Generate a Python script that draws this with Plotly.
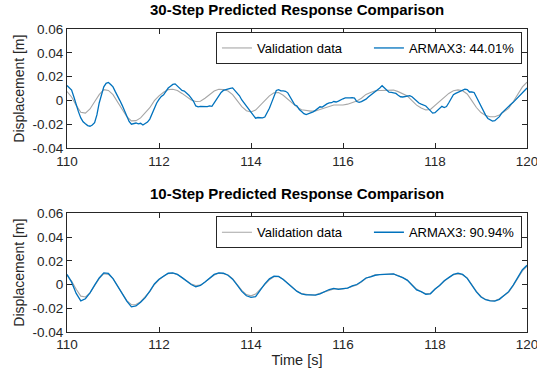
import numpy as np
import plotly.graph_objects as go
from plotly.subplots import make_subplots

# ---------------- data ----------------
t_coarse = np.round(np.linspace(110.0, 120.0, 101), 2)   # 0.1 s grid
t_fine = np.round(np.linspace(110.0, 120.0, 201), 2)     # 0.05 s grid

validation = [
    0.0076, 0.003, -0.004, -0.0098, -0.0105, -0.007, -0.001, 0.005, 0.0092, 0.0085,
    0.005, -0.001, -0.008, -0.0135, -0.017, -0.0168, -0.0145, -0.0105, -0.006, 0.0,
    0.004, 0.007, 0.0092, 0.0095, 0.0085, 0.006, 0.003, 0.0005, -0.0008, -0.0005,
    0.002, 0.005, 0.008, 0.0095, 0.0092, 0.008, 0.005, 0.0, -0.005, -0.0085,
    -0.0095, -0.008, -0.004, 0.0, 0.004, 0.0065, 0.0068, 0.0045, 0.001, -0.002,
    -0.0055, -0.0077, -0.0085, -0.0088, -0.0087, -0.0075, -0.006, -0.0045, -0.0037, -0.0037,
    -0.0037, -0.003, -0.0015, -0.0003, 0.002, 0.0052, 0.0068, 0.0082, 0.0085, 0.0088,
    0.009, 0.0088, 0.0075, 0.0058, 0.0038, 0.0, -0.0038, -0.0062, -0.0078, -0.0075,
    -0.004, -0.0005, 0.003, 0.006, 0.0082, 0.009, 0.0082, 0.0055, 0.0, -0.0058,
    -0.01, -0.0125, -0.0135, -0.0136, -0.012, -0.0095, -0.0065, -0.001, 0.0055, 0.0115,
    0.0155,
]

armax_10step = [
    0.0085, 0.002, -0.0075, -0.0138, -0.012, -0.007, -0.0005, 0.0055, 0.0098, 0.0093,
    0.005, -0.0015, -0.0085, -0.014, -0.0188, -0.018, -0.015, -0.011, -0.0055, 0.0005,
    0.0045, 0.0072, 0.0095, 0.0098, 0.0085, 0.0058, 0.0025, 0.0, -0.002, -0.0008,
    0.0022, 0.0055, 0.0085, 0.0098, 0.0095, 0.0078, 0.0045, -0.0005, -0.0058, -0.0095,
    -0.0108, -0.0102, -0.0045, 0.0005, 0.0048, 0.007, 0.0068, 0.0042, 0.0008, -0.0025,
    -0.0058, -0.0078, -0.0088, -0.0087, -0.0089, -0.0078, -0.006, -0.0042, -0.0032, -0.004,
    -0.0035, -0.003, -0.0012, 0.0, 0.0025, 0.0055, 0.0065, 0.0078, 0.0083, 0.0085,
    0.0088, 0.009, 0.0072, 0.0058, 0.0035, -0.0002, -0.0045, -0.006, -0.0082, -0.0078,
    -0.0038, -0.0008, 0.0032, 0.0058, 0.0085, 0.0095, 0.0085, 0.0052, -0.0005, -0.0062,
    -0.0105, -0.0128, -0.0138, -0.014, -0.0125, -0.0092, -0.006, -0.0005, 0.0062, 0.0125,
    0.0162,
]

armax_30step = [
    0.0126, 0.011, 0.0088, 0.003, -0.004, -0.0095, -0.0145, -0.0178, -0.0195, -0.021,
    -0.0215, -0.0205, -0.0185, -0.012, -0.002, 0.006, 0.0115, 0.0145, 0.0152, 0.0135,
    0.0115, 0.0075, 0.003, 0.0, -0.004, -0.009, -0.0135, -0.0175, -0.0198, -0.0195,
    -0.0188, -0.0195, -0.019, -0.0205, -0.0195, -0.018, -0.0155, -0.011, -0.0062, -0.002,
    0.001, 0.0035, 0.0048, 0.0075, 0.0105, 0.012, 0.0135, 0.014, 0.012, 0.0105,
    0.0085, 0.008, 0.0065, 0.0045, 0.002, -0.0006, -0.0045, -0.0052, -0.0048, -0.005,
    -0.0048, -0.005, -0.0045, -0.0048, -0.002, 0.001, 0.0045, 0.0068, 0.0085, 0.0092,
    0.0098, 0.0102, 0.0106, 0.0085, 0.006, 0.004, 0.0005, -0.002, -0.0045, -0.007,
    -0.0105, -0.013, -0.0148, -0.0142, -0.0145, -0.0145, -0.0138, -0.0105, -0.0065, -0.0015,
    0.004, 0.0085, 0.0092, 0.0082, 0.0082, 0.0078, 0.0065, 0.003, -0.001, -0.0035,
    -0.0045, -0.0075, -0.0092, -0.011, -0.0118, -0.0112, -0.01, -0.0095, -0.0082, -0.0065,
    -0.0052, -0.0055, -0.004, -0.0028, -0.002, -0.0018, -0.0008, -0.0012, -0.0005, 0.0008,
    0.0015, 0.0022, 0.0025, 0.0022, 0.0024, 0.002, -0.0008, -0.0015, -0.0008, 0.0,
    0.0012, 0.003, 0.0045, 0.006, 0.007, 0.0085, 0.0105, 0.0125, 0.0108, 0.0085,
    0.007, 0.0068, 0.0065, 0.006, 0.0045, 0.0032, 0.003, 0.0035, 0.0042, 0.0042,
    0.0032, 0.0015, -0.0005, -0.002, -0.003, -0.0038, -0.0045, -0.0065, -0.0085, -0.0105,
    -0.0102, -0.0085, -0.0068, -0.0048, -0.0058, -0.005, -0.0018, 0.002, 0.005, 0.006,
    0.0068, 0.0078, 0.0085, 0.0095, 0.0092, 0.0072, 0.0072, 0.0068, 0.003, -0.001,
    -0.0045, -0.0085, -0.0122, -0.015, -0.0165, -0.0172, -0.0168, -0.0152, -0.0135, -0.0105,
    -0.0085, -0.007, -0.0048, -0.003, -0.0015, 0.0005, 0.0022, 0.0045, 0.0065, 0.0085,
    0.0105,
]

titles = ["30-Step Predicted Response Comparison", "10-Step Predicted Response Comparison"]
fit_labels = ["ARMAX3: 44.01%", "ARMAX3: 90.94%"]
x_ticks = [110, 112, 114, 116, 118, 120]
y_ticks = [-0.04, -0.02, 0, 0.02, 0.04, 0.06]
y_tick_labels = ["-0.04", "-0.02", "0", "0.02", "0.04", "0.06"]

# ---------------- figure ----------------
FONT = "Liberation Sans, Arial, Helvetica, sans-serif"
AX = "#262626"
GREY = "#a6a6a6"
BLUE = "#0072BD"

W, H = 537, 381
ml, mr, mt, mb = 67, 10, 29, 49
plot_h = H - mt - mb

fig = make_subplots(rows=2, cols=1)
top_dom = [(H - mb - 148.3) / plot_h, 1.0]
bot_dom = [0.0, (H - mb - 213.3) / plot_h]

fig.add_trace(go.Scatter(x=t_coarse, y=validation, mode="lines", name="Validation data",
                         line=dict(color=GREY, width=1.1), legend="legend"), row=1, col=1)
fig.add_trace(go.Scatter(x=t_fine, y=armax_30step, mode="lines", name=fit_labels[0],
                         line=dict(color=BLUE, width=1.3), legend="legend"), row=1, col=1)
fig.add_trace(go.Scatter(x=t_coarse, y=validation, mode="lines", name="Validation data",
                         line=dict(color=GREY, width=1.1), legend="legend2"), row=2, col=1)
fig.add_trace(go.Scatter(x=t_coarse, y=armax_10step, mode="lines", name=fit_labels[1],
                         line=dict(color=BLUE, width=1.3), legend="legend2"), row=2, col=1)

axis_common = dict(showline=True, linecolor=AX, linewidth=1, mirror="allticks",
                   ticks="inside", ticklen=5, tickcolor=AX, showgrid=False, zeroline=False,
                   ticklabeloverflow="allow", automargin=False,
                   tickfont=dict(family=FONT, size=13.5, color=AX))

for r, dom in ((1, top_dom), (2, bot_dom)):
    fig.update_xaxes(range=[110, 120], tickvals=x_ticks, ticktext=[str(v) for v in x_ticks],
                     row=r, col=1, **axis_common)
    fig.update_yaxes(range=[-0.04, 0.06], tickvals=y_ticks, ticktext=y_tick_labels,
                     domain=dom, row=r, col=1,
                     title=dict(text="Displacement [m]", standoff=4,
                                font=dict(family=FONT, size=14, color=AX)),
                     **axis_common)

fig.update_xaxes(title=dict(text="Time [s]", standoff=3,
                            font=dict(family=FONT, size=14.5, color=AX)), row=2, col=1)

legend_common = dict(orientation="h", xanchor="right", yanchor="top",
                     bgcolor="white", bordercolor=AX, borderwidth=1,
                     entrywidth=107, entrywidthmode="pixels",
                     font=dict(family=FONT, size=13, color="#000000"),
                     tracegroupgap=0, itemclick=False)
fig.update_layout(
    legend=dict(x=0.989, y=top_dom[1] - 3 / plot_h, **legend_common),
    legend2=dict(x=0.989, y=bot_dom[1] - 3 / plot_h, **legend_common),
)

for txt, dom in zip(titles, (top_dom, bot_dom)):
    fig.add_annotation(text="<b>" + txt + "</b>", xref="paper", yref="paper",
                       x=0.5, y=dom[1], xanchor="center", yanchor="bottom",
                       yshift=9, showarrow=False,
                       font=dict(family=FONT, size=15, color="#000000"))

fig.update_layout(width=W, height=H, margin=dict(l=ml, r=mr, t=mt, b=mb, autoexpand=False),
                  paper_bgcolor="white", plot_bgcolor="white", showlegend=True)

fig.write_html("out.html")
